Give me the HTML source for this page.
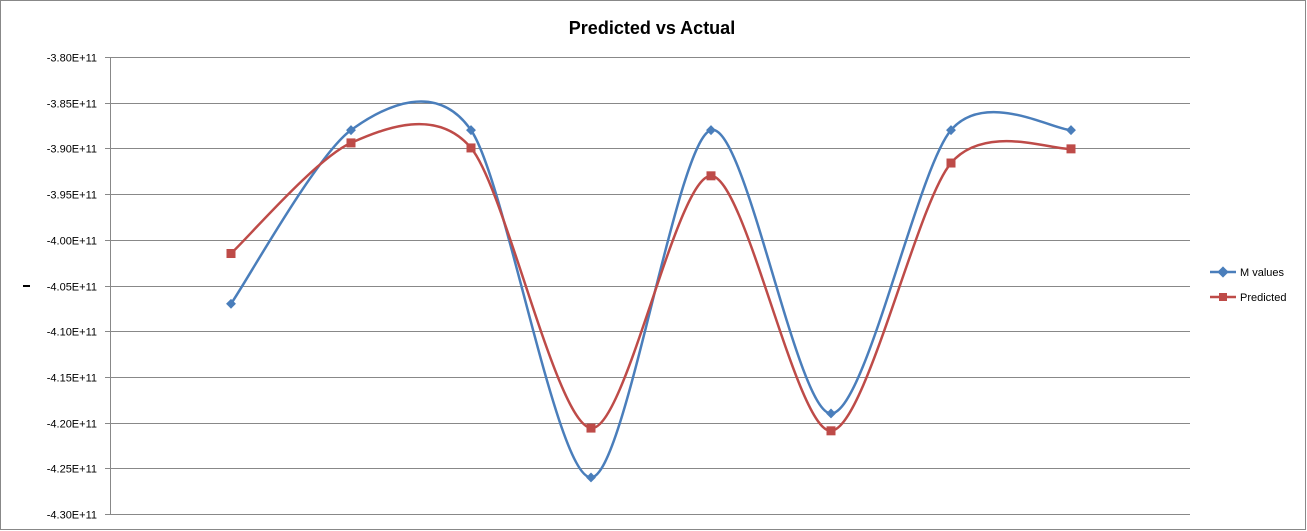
<!DOCTYPE html>
<html><head><meta charset="utf-8"><style>
body{margin:0;background:#fff;}
svg{display:block;font-family:"Liberation Sans",sans-serif;}
</style></head><body>
<svg id="c" width="1307" height="531">
<rect x="0.5" y="0.5" width="1305" height="529" fill="#fff" stroke="#888"/>
<text x="652" y="34" text-anchor="middle" font-size="18" font-weight="bold">Predicted vs Actual</text>
<rect x="23" y="285" width="7" height="2" fill="#000"/>
<g id="grid"></g><g id="series"></g>
<g>
<line x1="1210" y1="272" x2="1236" y2="272" stroke="#4a7ebb" stroke-width="2.5"/>
<rect x="1219" y="268" width="8" height="8" fill="#4a7ebb" transform="rotate(45 1223 272)"/>
<text x="1240" y="276" font-size="11">M values</text>
<line x1="1210" y1="297" x2="1236" y2="297" stroke="#be4b48" stroke-width="2.5"/>
<rect x="1219" y="293" width="8" height="8" fill="#be4b48"/>
<text x="1240" y="301" font-size="11">Predicted</text>
</g>
</svg>
<script>
const categories=[1,2,3,4,5,6,7,8];
const mValues=[-4.07,-3.88,-3.88,-4.26,-3.88,-4.19,-3.88,-3.88];
const predicted=[-4.015,-3.894,-3.8995,-4.206,-3.930,-4.209,-3.916,-3.9005];
const ticks=[-3.80,-3.85,-3.90,-3.95,-4.00,-4.05,-4.10,-4.15,-4.20,-4.25,-4.30];
const NS="http://www.w3.org/2000/svg";
const x0=110,x1=1190,yTop=57,yBot=514,vMax=-3.80,vMin=-4.30;
const slot=120;
function xs(i){return x0+1+slot*(i+1);}
function ys(v){return yTop+(vMax-v)/(vMax-vMin)*(yBot-yTop);}
function el(t,a,p){const e=document.createElementNS(NS,t);for(const k in a)e.setAttribute(k,a[k]);p.appendChild(e);return e;}
const grid=document.getElementById('grid');
ticks.forEach(t=>{
  const y=Math.round(ys(t))+0.5;
  const g=el('line',{x1:x0-5,x2:x1,y1:y,y2:y,stroke:'#888','stroke-width':1},grid);
  
  
  const tx=el('text',{x:97,y:y+4,'text-anchor':'end','font-size':11},grid);
  tx.textContent=t.toFixed(2)+'E+11';
  
  
});
const ax=el('line',{x1:x0+0.5,x2:x0+0.5,y1:yTop,y2:yBot,stroke:'#888'},grid);


function smooth(pts){
  const k=7;
  let d='M'+pts[0][0]+','+pts[0][1];
  for(let i=0;i<pts.length-1;i++){
    const p0=pts[i-1]||pts[i],p1=pts[i],p2=pts[i+1],p3=pts[i+2]||p2;
    const c1=[p1[0]+(p2[0]-p0[0])/k,p1[1]+(p2[1]-p0[1])/k];
    const c2=[p2[0]-(p3[0]-p1[0])/k,p2[1]-(p3[1]-p1[1])/k];
    d+=' C'+c1+' '+c2+' '+p2;
  }
  return d;
}
const sg=document.getElementById('series');
function drawSeries(vals,color,name,shape){
  const pts=vals.map((v,i)=>[xs(i),ys(v)]);
  const p=el('path',{d:smooth(pts),fill:'none',stroke:color,'stroke-width':2.5},sg);
  
  
  pts.forEach(q=>{
    let m;
    if(shape==='diamond')m=el('rect',{x:q[0]-3.5,y:q[1]-3.5,width:7,height:7,fill:color,transform:'rotate(45 '+q[0]+' '+q[1]+')'},sg);
    else m=el('rect',{x:q[0]-4.5,y:q[1]-4.5,width:9,height:9,fill:color},sg);
    
    
  });
}
drawSeries(mValues,'#4a7ebb','m-values','diamond');
drawSeries(predicted,'#be4b48','predicted','square');
</script>
</body></html>
